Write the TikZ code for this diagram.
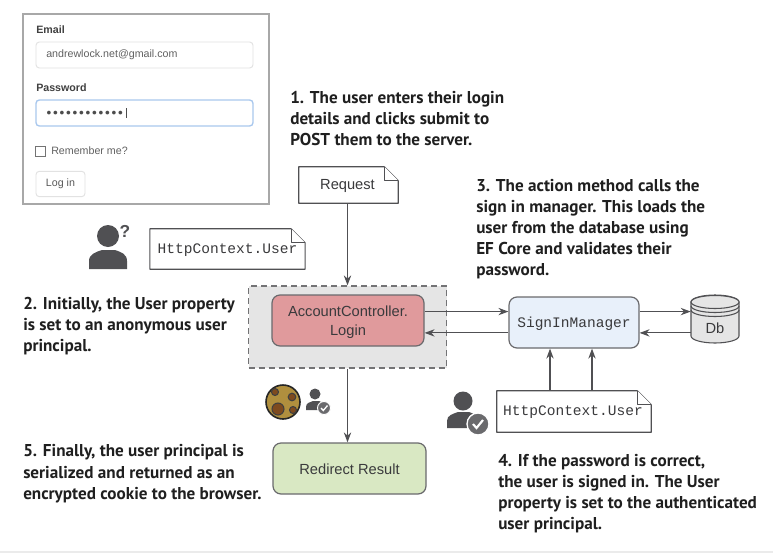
\documentclass[tikz,border=0pt]{standalone}
\usepackage{fontspec}
\setmainfont{Liberation Sans}
\setmonofont{Liberation Mono}
\newfontfamily\capfont{PT Sans}
\usetikzlibrary{arrows.meta,calc}
\definecolor{ink}{HTML}{505053}
\definecolor{txt}{HTML}{3A3A3C}
\definecolor{formline}{HTML}{A8A8A8}
\definecolor{fieldline}{HTML}{E2E2E2}
\definecolor{ctlred}{HTML}{E09A9C}
\definecolor{mgrblue}{HTML}{E8F0FA}
\definecolor{resgreen}{HTML}{D9E8C3}
\definecolor{cookiefill}{HTML}{B08F3E}
\definecolor{cookiespot}{HTML}{7E4A1E}
\definecolor{fieldblue}{HTML}{A9C8EE}
\tikzset{
  x=0.75pt,y=-0.75pt,
  caption/.style={inner sep=0pt,anchor=north west,align=left,font=\capfont\bfseries\fontsize{12.85}{15.8}\selectfont,text=black!88},
  flow/.style={draw=ink,line width=0.85pt,-{Stealth[length=7.5pt,width=5.5pt]}},
  boxnode/.style={draw=ink!85,line width=0.9pt,rounded corners=6pt,inner sep=0pt,align=center,text=txt,font=\fontsize{11}{14}\selectfont},
  notebody/.style={inner sep=0pt,text=txt},
  noteline/.style={draw=ink,line width=0.8pt,fill=white,line join=round},
  formtxt/.style={inner sep=0pt,anchor=west,text=black!62,font=\fontsize{8}{9}\selectfont},
  formlabel/.style={inner sep=0pt,anchor=west,text=black!75,font=\bfseries\fontsize{8}{9}\selectfont},
  field/.style={draw=fieldline,line width=0.7pt,rounded corners=2.5pt,inner sep=0pt,fill=white},
}
\newcommand{\notepath}[1]{
  \draw[noteline] (#1.south west) -- (#1.south east) -- ([yshift=-10.5pt]#1.north east) -- ([xshift=-10.5pt]#1.north east) -- (#1.north west) -- cycle;
  \draw[noteline,fill=white] ([xshift=-10.5pt]#1.north east) -- ([xshift=-10.5pt,yshift=-10.5pt]#1.north east) -- ([yshift=-10.5pt]#1.north east);
}
\begin{document}
\begin{tikzpicture}
\useasboundingbox (0,0) rectangle (773,553);
\fill[white] (0,0) rectangle (773,553);
\fill[black!8] (0,551) rectangle (773,553);

% login form
\node[draw=formline,line width=1pt,minimum width=184.5pt,minimum height=142.5pt,inner sep=0pt,fill=white] (form) at (146,109) {};
\node[formlabel] (emaillbl) at (36,30) {Email};
\node[field,minimum width=162.75pt,minimum height=19.5pt] (emailbox) at (144.5,55) {};
\node[formtxt] (emailval) at (46,55) {andrewlock.net@gmail.com};
\node[formlabel] (passlbl) at (36,88) {Password};
\node[field,draw=fieldblue,line width=1pt,minimum width=162.75pt,minimum height=19.5pt] (passbox) at (144.5,113) {};
\node[inner sep=0pt,anchor=west,text=black!70,font=\fontsize{6.5}{8}\selectfont\addfontfeature{LetterSpace=14.6}] (passval) at (46,113) {●●●●●●●●●●●●};
\draw[black!70,line width=0.6pt] (126,108) -- (126,118);
\node[draw=black!55,line width=0.6pt,minimum size=7.5pt,inner sep=0pt] (chk) at (40,151) {};
\node[formtxt] (remember) at (51,150.5) {Remember me?};
\node[field,minimum width=36.75pt,minimum height=19pt,text=black!65,font=\fontsize{8}{9}\selectfont] (login) at (60.5,184) {Log in};

% captions
\node[caption] (c1) at (290,91) {1. The user enters their login\\details and clicks submit to\\POST them to the server.};
\node[caption] (c2) at (23,297) {2. Initially, the User property\\is set to an anonymous user\\principal.};
\node[caption] (c3) at (476,179) {3. The action method calls the\\sign in manager. This loads the\\user from the database using\\EF Core and validates their\\password.};
\node[caption] (c4) at (498,454) {4. If the password is correct,\\the user is signed in. The User\\property is set to the authenticated\\user principal.};
\node[caption] (c5) at (23,444.5) {5. Finally, the user principal is\\serialized and returned as an\\encrypted cookie to the browser.};

% anonymous person
\fill[ink] (108,236) circle[radius=11];
\fill[ink] (89,269) -- (89,261) .. controls (89,254) and (96,252) .. (102,250) -- (115,250) .. controls (121,252) and (127,254) .. (127,261) -- (127,269) -- cycle;
\node[inner sep=0pt,text=ink,font=\bfseries\fontsize{13}{13}\selectfont] (qm) at (125,231) {?};

% notes
\node[notebody,minimum width=116pt,minimum height=30pt] (anon) at (227.5,249) {};
\notepath{anon}
\node[inner sep=0pt,text=txt,font=\ttfamily\fontsize{10.9}{12}\selectfont] (anontxt) at (227.5,250) {HttpContext.User};

\node[notebody,minimum width=74.25pt,minimum height=27pt] (req) at (348.5,185) {};
\notepath{req}
\node[inner sep=0pt,text=txt,font=\fontsize{11}{12}\selectfont] (reqtxt) at (347.5,186) {Request};

\node[notebody,minimum width=115.5pt,minimum height=30.75pt] (auth) at (574,411.5) {};
\notepath{auth}
\node[inner sep=0pt,text=txt,font=\ttfamily\fontsize{10.9}{12}\selectfont] (authtxt) at (573,412.5) {HttpContext.User};

% centre
\node[draw=ink!80,dash pattern=on 4.5pt off 3pt,line width=0.9pt,fill=black!10,minimum width=148.5pt,minimum height=61.5pt,inner sep=0pt] (group) at (347.5,327) {};
\node[boxnode,fill=ctlred,minimum width=114pt,minimum height=38.25pt] (ctl) at (348,320.5) {\rule{0pt}{10.5pt}AccountController.\\Login};
\node[boxnode,fill=mgrblue,minimum width=97.5pt,minimum height=38.25pt,font=\ttfamily\fontsize{10.9}{12}\selectfont] (mgr) at (574,322.5) {\rule{0pt}{9.5pt}SignInManager};
\node[boxnode,fill=resgreen,minimum width=114.75pt,minimum height=38.25pt] (res) at (349.5,468.5) {\rule{0pt}{9.5pt}Redirect Result};

% database
\node[inner sep=0pt,minimum width=36pt,minimum height=36pt] (db) at (715,319) {};
\draw[draw=ink,line width=0.8pt,fill=black!10] (691,302) -- (691,336) arc[start angle=180,end angle=0,x radius=24,y radius=7] -- (739,302) arc[start angle=0,end angle=-180,x radius=24,y radius=7] -- cycle;
\draw[draw=ink,line width=0.8pt,fill=black!10] (715,302) ellipse[x radius=24,y radius=6.5];
\draw[draw=ink,line width=0.8pt] (691,306) arc[start angle=180,end angle=0,x radius=24,y radius=6.5];
\draw[draw=ink,line width=0.8pt] (691,310) arc[start angle=180,end angle=0,x radius=24,y radius=6.5];
\node[inner sep=0pt,text=txt,font=\fontsize{11}{12}\selectfont] (dbtxt) at (715,328.5) {Db};

% cookie
\fill[cookiefill,draw=black!85,line width=1.2pt] (283,402) circle[radius=17];
\fill[cookiespot,draw=black!75,line width=0.8pt] (278,409) circle[radius=6];
\fill[cookiespot,draw=black!75,line width=0.8pt] (275,392) circle[radius=3.5];
\fill[cookiespot,draw=black!75,line width=0.8pt] (292,397) circle[radius=3.8];
\fill[cookiespot,draw=black!75,line width=0.8pt] (293,410) circle[radius=3.5];

% small person with check
\fill[ink] (315,394) circle[radius=5.5];
\fill[ink] (306,410) -- (306,407) .. controls (306,403) and (310,402) .. (313,401) -- (319,401) .. controls (322,402) and (324,403) .. (325,405) -- (320,410) -- cycle;
\fill[ink!85,draw=white,line width=0.7pt] (324,408) circle[radius=6.5];
\draw[white,line width=1pt] (321,408) -- (323.3,410.5) -- (327.5,405.5);

% large person with check
\fill[ink] (463,401) circle[radius=9.5];
\fill[ink] (447,428) -- (447,421) .. controls (447,415) and (453,414) .. (458,412) -- (469,412) .. controls (474,414) and (478,415) .. (479,418) -- (468,428) -- cycle;
\fill[ink!85,draw=white,line width=1pt] (478,424) circle[radius=11];
\draw[white,line width=1.6pt] (473,424) -- (476.5,428) -- (483,420);

% connectors
\coordinate (mgrEu) at ([yshift=8.2pt]mgr.east);
\coordinate (mgrEd) at ([yshift=-7.8pt]mgr.east);
\coordinate (mgrWu) at ([yshift=8.2pt]mgr.west);
\coordinate (mgrWd) at ([yshift=-7.8pt]mgr.west);
\draw[flow,line width=0.9pt] (group.north |- req.south) -- (group.north);
\draw[flow] (ctl.east |- mgrWu) -- (mgrWu);
\draw[flow] (mgrWd) -- (ctl.east |- mgrWd);
\draw[flow] (mgrEu) -- (db.west |- mgrEu);
\draw[flow] (db.west |- mgrEd) -- (mgrEd);
\coordinate (authL) at ([xshift=-18pt]auth.north);
\coordinate (authR) at ([xshift=13.5pt]auth.north);
\draw[flow] (authL) -- (authL |- mgr.south);
\draw[flow] (authR) -- (authR |- mgr.south);
\draw[flow,line width=1pt] (group.south) -- (group.south |- res.north);
\end{tikzpicture}
\end{document}
